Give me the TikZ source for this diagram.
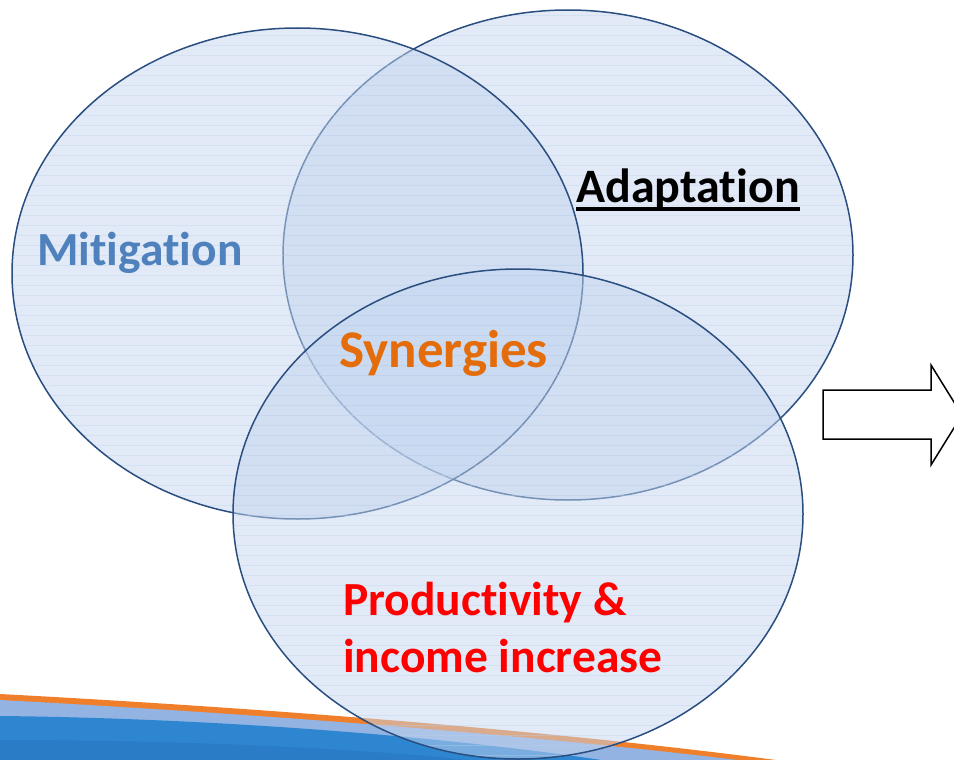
\documentclass[tikz,border=0pt]{standalone}
\usepackage{fontspec}
\setmainfont{Carlito}[Ligatures={NoCommon}]
\definecolor{vennfillc}{HTML}{C3D5EE}
\definecolor{vennline}{HTML}{2A4E7F}
\definecolor{hatchc}{HTML}{BCD0EC}
\definecolor{mitc}{HTML}{4F81BD}
\definecolor{sync}{HTML}{E46C0A}
\definecolor{swor}{HTML}{F07F2B}
\definecolor{swlb}{HTML}{93B3E3}
\definecolor{swdb}{HTML}{2F86D0}
\definecolor{swdb2}{HTML}{2A7CC6}
\tikzset{
  vennfill/.style={fill=vennfillc, fill opacity=0.5},
  vennedge/.style={draw=vennline, line width=1.5pt},
  hatchline/.style={draw=hatchc, line width=0.7pt, opacity=0.35},
  label/.style={inner sep=0pt, anchor=base west, font=\bfseries\fontsize{47.5}{57}\selectfont},
  blockarrow/.style={draw=black, line width=1.5pt, fill=white, line join=miter},
}
\begin{document}
\begin{tikzpicture}[x=1pt,y=-1pt]
\useasboundingbox (0,0) rectangle (954,760);
\clip (0,0) rectangle (954,760);
% bottom swoosh
\fill[swor] (0,694) .. controls (300,710) and (600,735) .. (820,766) -- (0,766) -- cycle;
\fill[swlb] (0,700) .. controls (300,716) and (600,741) .. (800,768) -- (0,768) -- cycle;
\fill[swdb] (0,716) .. controls (200,718) and (450,735) .. (640,766) -- (0,766) -- cycle;
\fill[swdb2] (0,740) .. controls (200,740) and (400,750) .. (520,766) -- (0,766) -- cycle;
% Adaptation ellipse
\path[vennfill] (568,255) ellipse [x radius=285pt, y radius=245pt];
\begin{scope}
  \clip (568,255) ellipse [x radius=285pt, y radius=245pt];
  \foreach \yy in {5,15,...,765} \draw[hatchline] (0,\yy) -- (954,\yy);
\end{scope}
\path[vennedge] (568,255) ellipse [x radius=285pt, y radius=245pt];
% Mitigation ellipse
\path[vennfill] (297.5,273.5) ellipse [x radius=285.5pt, y radius=245.5pt];
\begin{scope}
  \clip (297.5,273.5) ellipse [x radius=285.5pt, y radius=245.5pt];
  \foreach \yy in {5,15,...,765} \draw[hatchline] (0,\yy) -- (954,\yy);
\end{scope}
\path[vennedge] (297.5,273.5) ellipse [x radius=285.5pt, y radius=245.5pt];
% Productivity ellipse
\path[vennfill] (518,514) ellipse [x radius=285pt, y radius=245pt];
\begin{scope}
  \clip (518,514) ellipse [x radius=285pt, y radius=245pt];
  \foreach \yy in {5,15,...,765} \draw[hatchline] (0,\yy) -- (954,\yy);
\end{scope}
\path[vennedge] (518,514) ellipse [x radius=285pt, y radius=245pt];
% labels
\node[label, text=mitc] (mit) at (37,265) {Mitigation};
\node[label, text=black, font=\bfseries\fontsize{48}{57}\selectfont] (ada) at (576,202) {Adaptation};
\draw[line width=3.2pt] ([yshift=-7pt]ada.base west) -- ([yshift=-7pt]ada.base east);
\node[label, text=sync, font=\bfseries\fontsize{53}{66}\selectfont] (syn) at (339,367) {Synergies};
\node[label, text=red] (pro1) at (343,615) {Productivity \&};
\node[label, text=red] (pro2) at (343,672) {income increase};
% block arrow
\path[blockarrow] (823,390) -- (931,390) -- (931,365) -- (962,415) -- (931,465) -- (931,439) -- (823,439) -- cycle;
\end{tikzpicture}
\end{document}
